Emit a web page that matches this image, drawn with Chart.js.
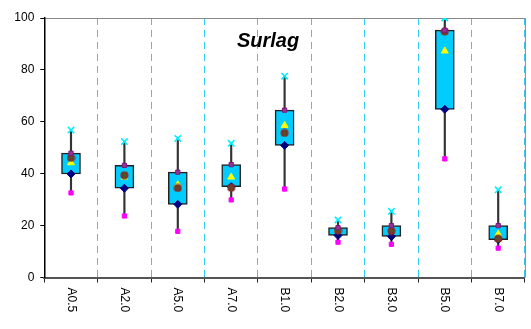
<!DOCTYPE html>
<html>
<head>
<meta charset="utf-8">
<script src="https://cdn.jsdelivr.net/npm/chart.js@4.4.1/dist/chart.umd.min.js"></script>
<style>
  html, body { margin: 0; padding: 0; background: #fff; }
  #wrap { width: 531px; height: 329px; }
</style>
</head>
<body>
<div id="wrap"><canvas id="chart" width="531" height="329"></canvas></div>
<script>
// categories and box statistics
const categories = ['A0.5', 'A2.0', 'A5.0', 'A7.0', 'B1.0', 'B2.0', 'B3.0', 'B5.0', 'B7.0'];
const maxVals    = [56.8, 52.4, 53.6, 51.7, 77.6, 22.2, 25.5, 100.0, 33.8];
const q3Vals     = [47.9, 43.2, 40.6, 43.5, 64.5, 19.2, 20.0, 95.3, 20.0];
const medianVals = [46.1, 39.4, 34.5, 34.6, 55.7, 18.1, 17.9, 94.8, 15.0];
const meanVals   = [44.2, 38.7, 35.7, 38.7, 58.6, 18.3, 18.2, 87.3, 16.7];
const q1Vals     = [39.9, 34.4, 28.2, 35.0, 50.9, 16.2, 15.8, 64.8, 14.6];
const minVals    = [32.6, 23.7, 17.8, 29.9, 34.1, 13.6, 12.8, 45.7, 11.3];
const yTicks     = [0, 20, 40, 60, 80, 100];
const chartTitle = 'Surlag';

const FONT = '"Liberation Sans", Arial, sans-serif';

// little point image for the median: brown dot with a dark cross
function medianMarker() {
    const c = document.createElement('canvas');
    c.width = 9; c.height = 9;
    const g = c.getContext('2d');
    g.fillStyle = '#8b2a2a';
    g.beginPath(); g.arc(4.5, 4.5, 4, 0, Math.PI * 2); g.fill();
    g.strokeStyle = '#4a5a2a';
    g.lineWidth = 1.2;
    g.beginPath();
    g.moveTo(4.5, 1); g.lineTo(4.5, 8);
    g.moveTo(1, 4.5); g.lineTo(8, 4.5);
    g.stroke();
    return c;
}

// title, rotated category labels and the right frame line
const extrasPlugin = {
    id: 'extras',
    afterDraw(chart) {
        const ctx = chart.ctx;
        const area = chart.chartArea;
        const xs = chart.scales.x;
        ctx.save();
        ctx.strokeStyle = '#888';
        ctx.lineWidth = 1;
        ctx.beginPath();
        ctx.moveTo(area.right + 0.5, area.top);
        ctx.lineTo(area.right + 0.5, area.bottom);
        ctx.stroke();

        ctx.fillStyle = '#000';
        ctx.font = 'bold italic 20px ' + FONT;
        ctx.textAlign = 'center';
        ctx.textBaseline = 'alphabetic';
        ctx.fillText(chartTitle, 268, 47);

        ctx.font = '12px ' + FONT;
        ctx.textAlign = 'left';
        ctx.textBaseline = 'middle';
        categories.forEach((label, i) => {
            const x = xs.getPixelForTick(i);
            ctx.save();
            ctx.translate(x, area.bottom + 10);
            ctx.rotate(Math.PI / 2);
            ctx.fillText(label, 0, 0);
            ctx.restore();
        });
        ctx.restore();
    }
};

const pointSet = (label, data, style, radius, fill, stroke, width, order) => ({
    type: 'line',
    label: label,
    data: data,
    showLine: false,
    pointStyle: style,
    pointRadius: radius,
    pointHoverRadius: radius,
    pointBackgroundColor: fill,
    pointBorderColor: stroke,
    pointBorderWidth: width,
    order: order
});

const ctx = document.getElementById('chart').getContext('2d');
new Chart(ctx, {
    type: 'bar',
    data: {
        labels: categories,
        datasets: [
            {
                label: 'whisker',
                data: categories.map((c, i) => [minVals[i], maxVals[i]]),
                backgroundColor: '#333',
                borderWidth: 0,
                barThickness: 1.5,
                grouped: false,
                order: 20
            },
            {
                label: 'box',
                data: categories.map((c, i) => [q1Vals[i], q3Vals[i]]),
                backgroundColor: '#00ccff',
                borderColor: '#222',
                borderWidth: 1.5,
                borderSkipped: false,
                barThickness: 19,
                grouped: false,
                order: 10
            },
            pointSet('min', minVals, 'rect', 3, '#ff00ff', '#ff00ff', 1, 6),
            pointSet('max', maxVals, 'crossRot', 4.5, '#00ffff', '#00f0ff', 1.6, 5),
            pointSet('q1', q1Vals, 'rectRot', 4, '#000080', '#000080', 1, 4),
            pointSet('mean', meanVals, 'triangle', 4, '#ffff00', '#ffff00', 1, 3),
            pointSet('median', medianVals, medianMarker(), 4, '#8b2a2a', '#8b2a2a', 1, 2),
            pointSet('q3', q3Vals, 'rect', 3, '#993399', '#7a1a7a', 1, 1)
        ]
    },
    options: {
        responsive: false,
        animation: false,
        layout: { padding: { left: 0, right: 5, top: 18, bottom: 0 } },
        plugins: {
            legend: { display: false },
            tooltip: { enabled: false },
            title: { display: false }
        },
        scales: {
            x: {
                offset: true,
                grid: {
                    offset: true,
                    color: (c) => (c.index === 0 || c.index >= categories.length) ? 'rgba(0,0,0,0)' : '#33ccee',
                    lineWidth: 1,
                    drawTicks: true,
                    tickLength: 5,
                    tickColor: '#222',
                    tickWidth: 1
                },
                border: { display: true, color: '#555', width: 2, dash: [7, 5] },
                ticks: { display: false },
                afterFit(scale) { scale.height = 51.5; }
            },
            y: {
                min: 0,
                max: 100,
                afterBuildTicks(scale) { scale.ticks = yTicks.map(v => ({ value: v })); },
                grid: {
                    color: (c) => (c.tick && c.tick.value === 100) ? '#888' : 'rgba(0,0,0,0)',
                    lineWidth: 1,
                    drawTicks: true,
                    tickLength: 4,
                    tickColor: '#000'
                },
                border: { display: true, color: '#000', width: 1.5 },
                ticks: {
                    color: '#000',
                    padding: 6,
                    font: { family: FONT, size: 12 }
                },
                afterFit(scale) { scale.width = 44.3; }
            }
        }
    },
    plugins: [extrasPlugin]
});
</script>
</body>
</html>
